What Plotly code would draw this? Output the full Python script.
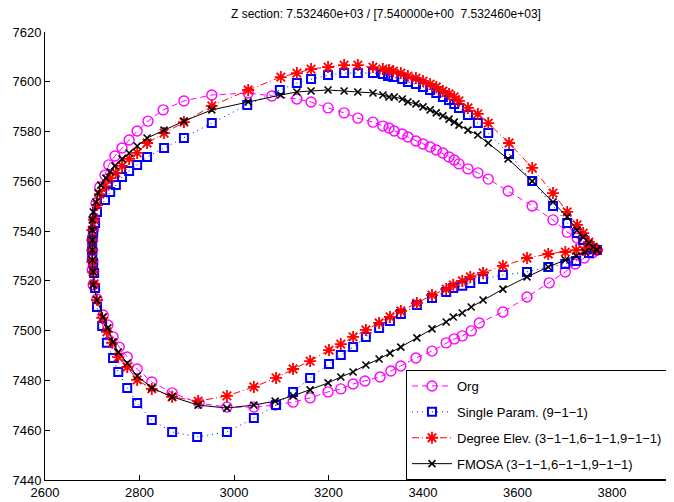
import plotly.graph_objects as go

# ---------------- data ----------------
org_x = [3768, 3753, 3739, 3726, 3705, 3675, 3631, 3580, 3538, 3516, 3495, 3476, 3466, 3455, 3442, 3428,
         3415, 3400, 3385, 3368, 3356, 3339, 3328, 3315, 3294, 3262, 3233, 3199, 3163, 3133, 3080, 3030,
         2953, 2894, 2850, 2818, 2795, 2778, 2763, 2748, 2735, 2727, 2716, 2708, 2704, 2702, 2700, 2700,
         2700, 2700, 2702, 2710, 2723, 2733, 2744, 2757, 2774, 2795, 2826, 2869, 2926, 2985, 3042, 3087,
         3125, 3161, 3199, 3226, 3252, 3277, 3309, 3332, 3353, 3385, 3419, 3449, 3466, 3483, 3502, 3519,
         3569, 3620, 3667, 3701, 3722, 3741, 3758, 3768]
org_y = [7532.4, 7534.0, 7535.2, 7537.2, 7539.6, 7544.5, 7550.1, 7556.1, 7560.9, 7563.4, 7565.0, 7567.0,
         7568.6, 7569.8, 7571.4, 7572.6, 7573.8, 7575.0, 7576.2, 7577.8, 7579.0, 7580.2, 7581.4, 7582.2,
         7583.8, 7585.4, 7587.5, 7589.5, 7591.9, 7593.1, 7594.3, 7595.5, 7594.7, 7592.3, 7588.7, 7584.2,
         7580.2, 7576.6, 7573.4, 7570.2, 7566.6, 7562.5, 7557.7, 7551.3, 7545.3, 7540.4, 7536.4, 7532.4,
         7528.4, 7524.4, 7518.4, 7512.7, 7506.3, 7502.3, 7497.5, 7493.4, 7489.4, 7484.6, 7479.4, 7475.0,
         7470.9, 7469.3, 7469.3, 7470.1, 7471.3, 7473.0, 7475.4, 7476.6, 7478.6, 7479.8, 7481.4, 7483.8,
         7485.8, 7489.0, 7491.8, 7495.1, 7496.7, 7497.9, 7499.9, 7503.1, 7507.5, 7513.5, 7519.2, 7523.6,
         7526.8, 7529.2, 7531.2, 7532.4]

single_x = [3768, 3760, 3751, 3739, 3726, 3705, 3675, 3631, 3582, 3538, 3516, 3495, 3476, 3466, 3455, 3442,
            3428, 3415, 3400, 3385, 3368, 3356, 3337, 3326, 3315, 3294, 3262, 3233, 3199, 3163, 3133, 3097,
            3028, 2953, 2894, 2852, 2816, 2795, 2778, 2763, 2750, 2738, 2727, 2710, 2706, 2702, 2700, 2700,
            2700, 2702, 2704, 2706, 2710, 2721, 2731, 2744, 2755, 2774, 2795, 2826, 2869, 2922, 2985, 3042,
            3089, 3125, 3161, 3201, 3226, 3252, 3279, 3307, 3330, 3353, 3387, 3419, 3449, 3464, 3483, 3500,
            3527, 3569, 3620, 3665, 3701, 3724, 3751, 3768]
single_y = [7532.4, 7532.8, 7534.0, 7536.4, 7539.2, 7543.3, 7550.1, 7560.1, 7571.0, 7579.4, 7583.4, 7586.7,
            7589.5, 7591.1, 7592.7, 7593.9, 7595.5, 7596.7, 7597.9, 7599.1, 7599.9, 7601.1, 7601.9, 7602.3,
            7603.1, 7603.5, 7603.5, 7603.5, 7602.7, 7601.1, 7599.5, 7596.7, 7590.7, 7583.4, 7577.4, 7573.4,
            7569.8, 7566.6, 7564.2, 7561.7, 7558.5, 7555.7, 7552.5, 7547.7, 7543.3, 7539.2, 7536.4, 7532.4,
            7529.6, 7527.2, 7523.2, 7517.1, 7509.5, 7501.9, 7495.1, 7489.0, 7483.4, 7477.0, 7470.9, 7464.1,
            7459.3, 7457.3, 7459.3, 7464.9, 7470.1, 7475.4, 7481.0, 7486.6, 7490.2, 7493.4, 7497.5, 7501.1,
            7503.9, 7506.7, 7510.3, 7513.1, 7515.5, 7517.1, 7518.0, 7519.2, 7520.8, 7522.4, 7523.6, 7525.6,
            7526.8, 7528.0, 7531.2, 7532.4]

degree_x = [3768, 3760, 3751, 3739, 3726, 3705, 3675, 3631, 3582, 3538, 3516, 3495, 3476, 3466, 3455, 3442,
            3428, 3415, 3400, 3385, 3368, 3353, 3337, 3328, 3315, 3294, 3262, 3233, 3199, 3163, 3133, 3099,
            3030, 2953, 2894, 2852, 2816, 2795, 2778, 2763, 2750, 2738, 2727, 2716, 2710, 2704, 2700, 2700,
            2700, 2700, 2702, 2704, 2710, 2721, 2731, 2742, 2755, 2774, 2795, 2826, 2869, 2924, 2985, 3042,
            3089, 3125, 3161, 3201, 3226, 3252, 3279, 3307, 3330, 3353, 3387, 3419, 3449, 3464, 3483, 3500,
            3527, 3569, 3620, 3665, 3701, 3724, 3741, 3768]
degree_y = [7532.4, 7533.6, 7535.6, 7539.2, 7542.5, 7547.7, 7555.3, 7565.4, 7575.4, 7583.4, 7587.1, 7589.5,
            7592.3, 7593.9, 7595.1, 7596.3, 7597.9, 7599.1, 7600.3, 7601.5, 7602.3, 7603.5, 7604.3, 7604.7,
            7605.1, 7605.9, 7606.7, 7606.7, 7605.9, 7605.1, 7603.5, 7601.9, 7596.7, 7590.3, 7583.8, 7579.4,
            7575.4, 7571.4, 7569.0, 7566.2, 7563.4, 7561.3, 7558.1, 7554.9, 7550.5, 7544.5, 7540.4, 7536.4,
            7532.4, 7527.6, 7523.6, 7518.8, 7512.3, 7505.1, 7499.5, 7495.1, 7489.4, 7485.4, 7480.2, 7476.6,
            7473.4, 7471.7, 7473.8, 7477.4, 7481.0, 7484.6, 7487.8, 7492.2, 7494.6, 7497.5, 7500.3, 7503.1,
            7505.5, 7507.9, 7511.1, 7514.3, 7516.7, 7518.4, 7520.0, 7521.6, 7523.2, 7526.0, 7529.2, 7530.8,
            7531.6, 7532.4, 7532.4, 7532.4]

fmosa_x = [3768, 3760, 3751, 3739, 3726, 3705, 3675, 3631, 3580, 3538, 3516, 3495, 3476, 3466, 3455, 3442,
           3428, 3415, 3400, 3385, 3368, 3356, 3339, 3328, 3315, 3294, 3262, 3233, 3199, 3163, 3133, 3099,
           3030, 2953, 2894, 2852, 2816, 2795, 2778, 2763, 2748, 2738, 2729, 2718, 2712, 2708, 2702, 2700,
           2700, 2700, 2700, 2700, 2702, 2702, 2710, 2723, 2733, 2744, 2755, 2774, 2795, 2826, 2869, 2924,
           2985, 3042, 3087, 3125, 3161, 3199, 3226, 3252, 3279, 3307, 3330, 3353, 3387, 3419, 3449, 3464,
           3483, 3502, 3527, 3569, 3620, 3665, 3701, 3724, 3743, 3768]
fmosa_y = [7532.4, 7533.6, 7535.2, 7537.6, 7540.4, 7545.7, 7551.7, 7560.1, 7569.0, 7575.4, 7578.6, 7580.6,
           7582.6, 7583.8, 7585.0, 7586.3, 7587.5, 7588.7, 7589.9, 7591.1, 7591.9, 7593.1, 7593.9, 7593.9,
           7594.7, 7595.5, 7595.9, 7596.3, 7596.7, 7596.3, 7595.9, 7594.7, 7591.9, 7588.7, 7584.2, 7580.6,
           7577.4, 7574.2, 7571.4, 7569.0, 7566.2, 7563.8, 7561.3, 7558.5, 7555.3, 7551.7, 7547.7, 7544.5,
           7540.4, 7536.4, 7532.4, 7528.4, 7523.6, 7518.4, 7512.3, 7505.5, 7501.1, 7495.5, 7491.4, 7487.0,
           7481.8, 7477.0, 7473.4, 7470.1, 7468.9, 7470.1, 7471.7, 7473.8, 7476.2, 7479.0, 7481.4, 7483.4,
           7486.2, 7488.6, 7491.0, 7493.4, 7497.1, 7500.7, 7503.5, 7505.5, 7507.1, 7509.5, 7512.3, 7516.7,
           7521.6, 7525.6, 7528.4, 7530.0, 7531.6, 7532.4]

series_names = ["Org", "Single Param. (9\u22121\u22121)",
                "Degree Elev. (3\u22121\u22121,6\u22121\u22121,9\u22121\u22121)",
                "FMOSA (3\u22121\u22121,6\u22121\u22121,9\u22121\u22121)"]
title_text = "Z section: 7.532460e+03 / [7.540000e+00\u00a0 7.532460e+03]"
x_ticks = [2600, 2800, 3000, 3200, 3400, 3600, 3800]
y_ticks = [7440, 7460, 7480, 7500, 7520, 7540, 7560, 7580, 7600, 7620]

FONT = "Liberation Sans, Arial, Helvetica, sans-serif"

fig = go.Figure()
fig.add_trace(go.Scatter(
    x=org_x, y=org_y, name=series_names[0], mode="lines+markers", legendgroup="g1",
    line=dict(color="#ff00ff", width=1, dash="6px,4px"),
    marker=dict(symbol="circle-open", size=10, color="#ff00ff", line=dict(width=1.4, color="#ff00ff"))))
fig.add_trace(go.Scatter(
    x=single_x, y=single_y, name=series_names[1], mode="lines+markers", legendgroup="g2",
    line=dict(color="#0000ff", width=1, dash="1px,4px"),
    marker=dict(symbol="square-open", size=8, color="#0000ff", line=dict(width=2, color="#0000ff"))))
fig.add_trace(go.Scatter(
    x=degree_x, y=degree_y, name=series_names[2], mode="lines+markers", legendgroup="g3",
    line=dict(color="#ff0000", width=1, dash="7px,3px,1px,3px"),
    marker=dict(symbol="asterisk-open", size=10, color="#ff0000", line=dict(width=1.8, color="#ff0000"))))
fig.add_trace(go.Scatter(
    x=fmosa_x, y=fmosa_y, name=series_names[3], mode="lines+markers", legendgroup="g4",
    line=dict(color="#000000", width=1),
    marker=dict(symbol="x-thin-open", size=7, color="#000000", line=dict(width=1.6, color="#000000"))))

# The page puts the figure 8 px in from the top-left corner, so the margins
# are 8 px smaller than the reference's to land in the same place.
fig.update_layout(
    width=674, height=502,
    margin=dict(l=37, r=0, t=24, b=30, autoexpand=False),
    paper_bgcolor="white", plot_bgcolor="white",
    font=dict(family=FONT, size=13, color="black"),
    showlegend=True,
    legend=dict(x=0.5667, y=0, xanchor="left", yanchor="bottom",
                bgcolor="white", bordercolor="black", borderwidth=1,
                font=dict(family=FONT, size=13, color="black"),
                tracegroupgap=6, itemwidth=40, traceorder="grouped",
                entrywidth=280, entrywidthmode="pixels"),
    annotations=[dict(text=title_text, x=0.5353, y=1.040, xref="paper", yref="paper",
                      xanchor="center", yanchor="middle", showarrow=False,
                      font=dict(family=FONT, size=12, color="black"))],
)
fig.update_xaxes(range=[2600, 3948], tickvals=x_ticks, ticktext=[str(v) for v in x_ticks],
                 showgrid=False, zeroline=False, showline=True, linecolor="black", linewidth=1,
                 ticks="inside", ticklen=5, tickcolor="black", mirror=False, automargin=False)
fig.update_yaxes(range=[7440, 7620], tickvals=y_ticks, ticktext=[str(v) for v in y_ticks],
                 showgrid=False, zeroline=False, showline=True, linecolor="black", linewidth=1,
                 ticks="inside", ticklen=5, tickcolor="black", mirror=False, automargin=False)

fig.write_html("out.html")
